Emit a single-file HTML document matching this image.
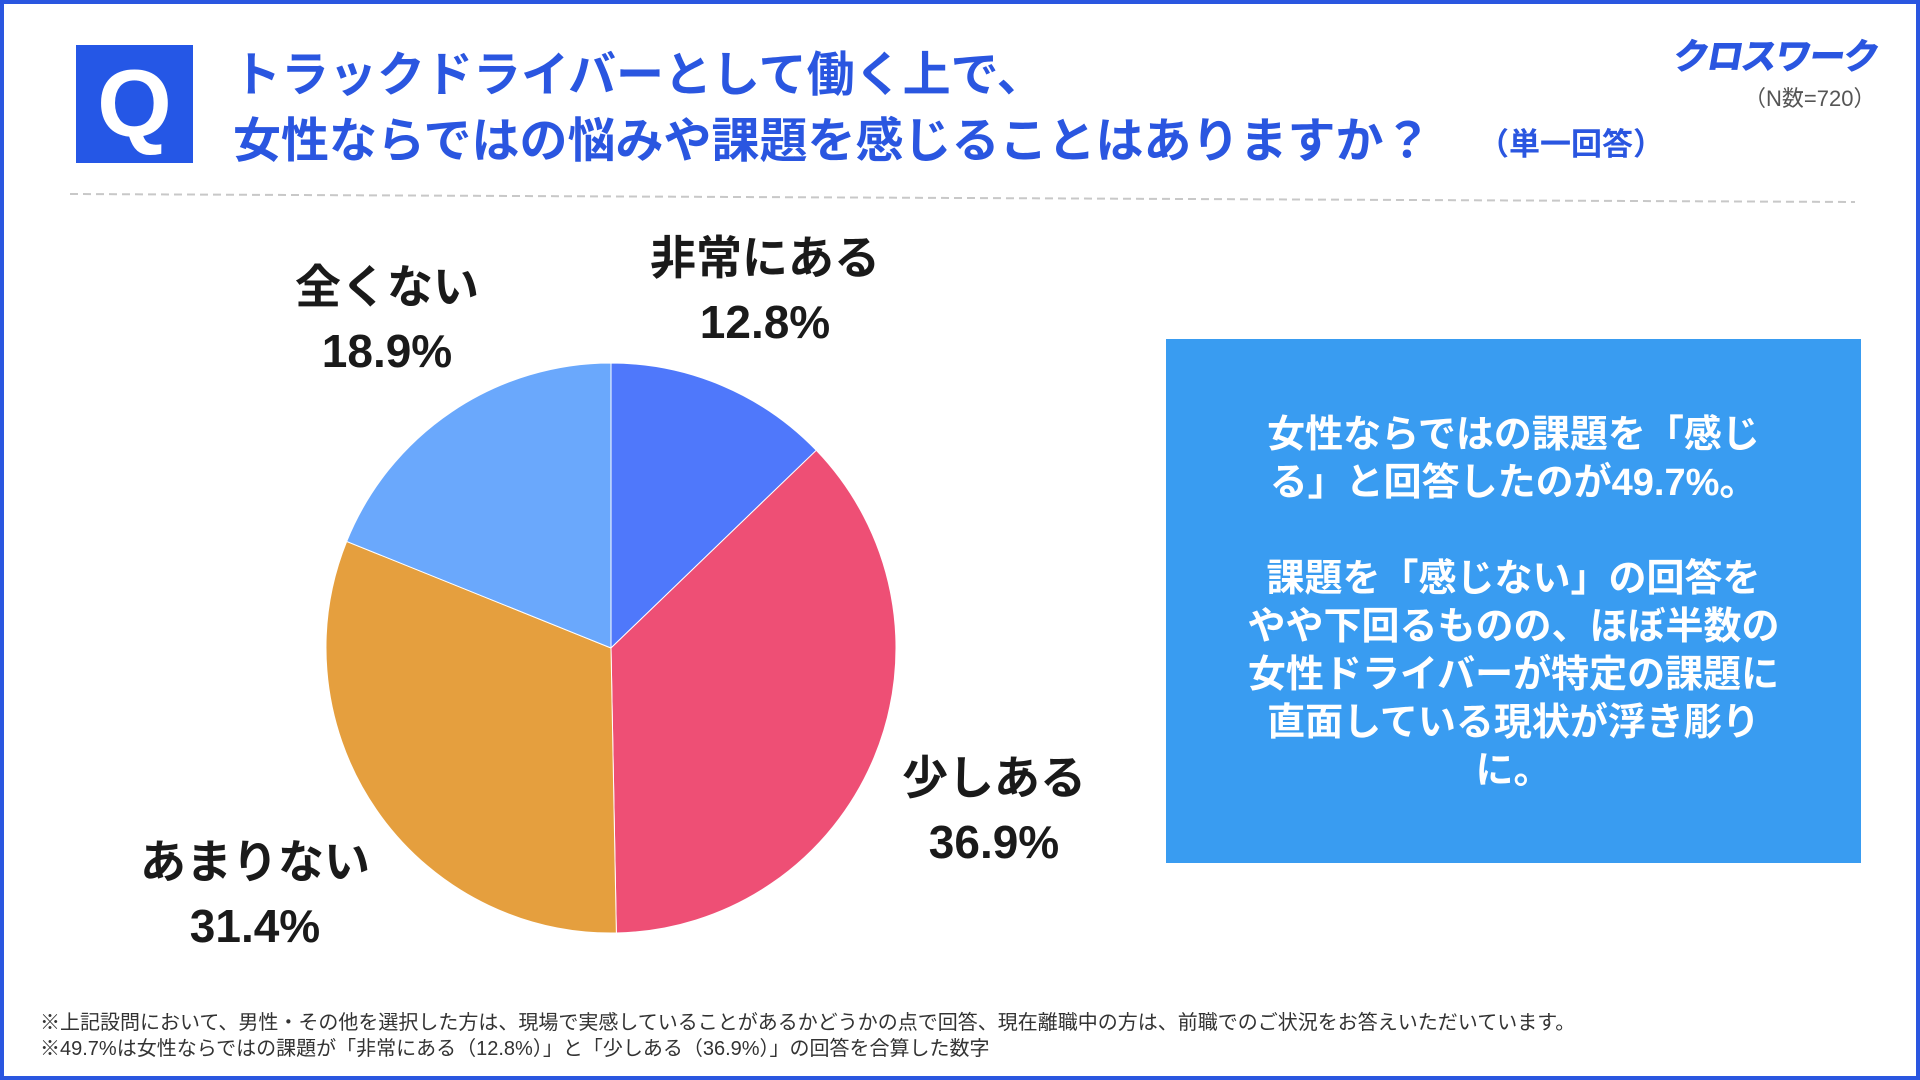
<!DOCTYPE html>
<html><head><meta charset="utf-8">
<style>
body{margin:0;width:1920px;height:1080px;overflow:hidden;background:#fff;font-family:"Liberation Sans","Noto Sans CJK JP",sans-serif;}
#frame{position:absolute;left:0;top:0;width:1920px;height:1080px;box-sizing:border-box;border:4px solid #2a56e0;}
.abs{position:absolute;white-space:nowrap;}
.t{color:#2a56e0;font-weight:bold;font-size:48px;line-height:60px;}
.lbl{font-weight:bold;font-size:46px;color:#1a1a1a;text-align:center;line-height:64px;transform:translateX(-50%);}
</style></head><body>
<div id="frame"></div>
<div class="abs" style="left:76px;top:45px;width:117px;height:118px;background:#2557e6;color:#fff;font-weight:bold;font-size:96px;line-height:118px;text-align:center;">Q</div>
<div class="abs t" style="left:233px;top:46px;">トラックドライバーとして働く上で、</div>
<div class="abs t" style="left:233px;top:112px;">女性ならではの悩みや課題を感じることはありますか？</div>
<div class="abs" style="left:1478px;top:119px;color:#2a56e0;font-weight:bold;font-size:31px;">（単一回答）</div>
<div class="abs" style="left:1674px;top:28px;color:#2a56e0;font-weight:900;font-size:36px;letter-spacing:-2px;transform:skewX(-10deg);">クロスワーク</div>
<div class="abs" style="left:1744px;top:81px;color:#555;font-size:22px;">（N数=720）</div>
<svg class="abs" style="left:0;top:0" width="1920" height="1080"><line x1="70" y1="194" x2="1855" y2="202" stroke="#c8c8c8" stroke-width="2" stroke-dasharray="8,5"/></svg>
<svg id="pie" class="abs" style="left:0;top:0" width="1920" height="1080"></svg>
<div class="abs lbl" style="left:765px;top:226px;">非常にある<br>12.8%</div>
<div class="abs lbl" style="left:387px;top:255px;">全くない<br>18.9%</div>
<div class="abs lbl" style="left:994px;top:746px;">少しある<br>36.9%</div>
<div class="abs lbl" style="left:255px;top:830px;">あまりない<br>31.4%</div>
<div class="abs" style="left:1166px;top:339px;width:695px;height:524px;background:#399cf1;color:#fff;font-weight:bold;font-size:38px;line-height:48px;text-align:center;box-sizing:border-box;padding-top:72px;">女性ならではの課題を「感じ<br>る」と回答したのが49.7%。<br><br>課題を「感じない」の回答を<br>やや下回るものの、ほぼ半数の<br>女性ドライバーが特定の課題に<br>直面している現状が浮き彫り<br>に。</div>
<div class="abs" style="left:40px;top:1006px;font-size:20px;color:#333;">※上記設問において、男性・その他を選択した方は、現場で実感していることがあるかどうかの点で回答、現在離職中の方は、前職でのご状況をお答えいただいています。</div>
<div class="abs" style="left:40px;top:1032px;font-size:20px;color:#333;">※49.7%は女性ならではの課題が「非常にある（12.8%）」と「少しある（36.9%）」の回答を合算した数字</div>
<script>
const categories=["非常にある","少しある","あまりない","全くない"];
const values=[12.8,36.9,31.4,18.9];
const colors=["#4f78fb","#ee4f75","#e59f3e","#6aa8fc"];
const svg=document.getElementById('pie');
const cx=611,cy=648,r=285;
const total=values.reduce((a,b)=>a+b,0);
let a0=-Math.PI/2;
values.forEach((v,i)=>{
  const a1=a0+v/total*2*Math.PI;
  const x0=cx+r*Math.cos(a0),y0=cy+r*Math.sin(a0),x1=cx+r*Math.cos(a1),y1=cy+r*Math.sin(a1);
  const large=(a1-a0)>Math.PI?1:0;
  const p=document.createElementNS('http://www.w3.org/2000/svg','path');
  p.setAttribute('d',`M${cx},${cy}L${x0},${y0}A${r},${r} 0 ${large} 1 ${x1},${y1}Z`);
  p.setAttribute('fill',colors[i]);
  p.setAttribute('stroke','#fff');
  p.setAttribute('stroke-width','1');
  
  
  svg.appendChild(p);
  a0=a1;
});
</script>
</body></html>
